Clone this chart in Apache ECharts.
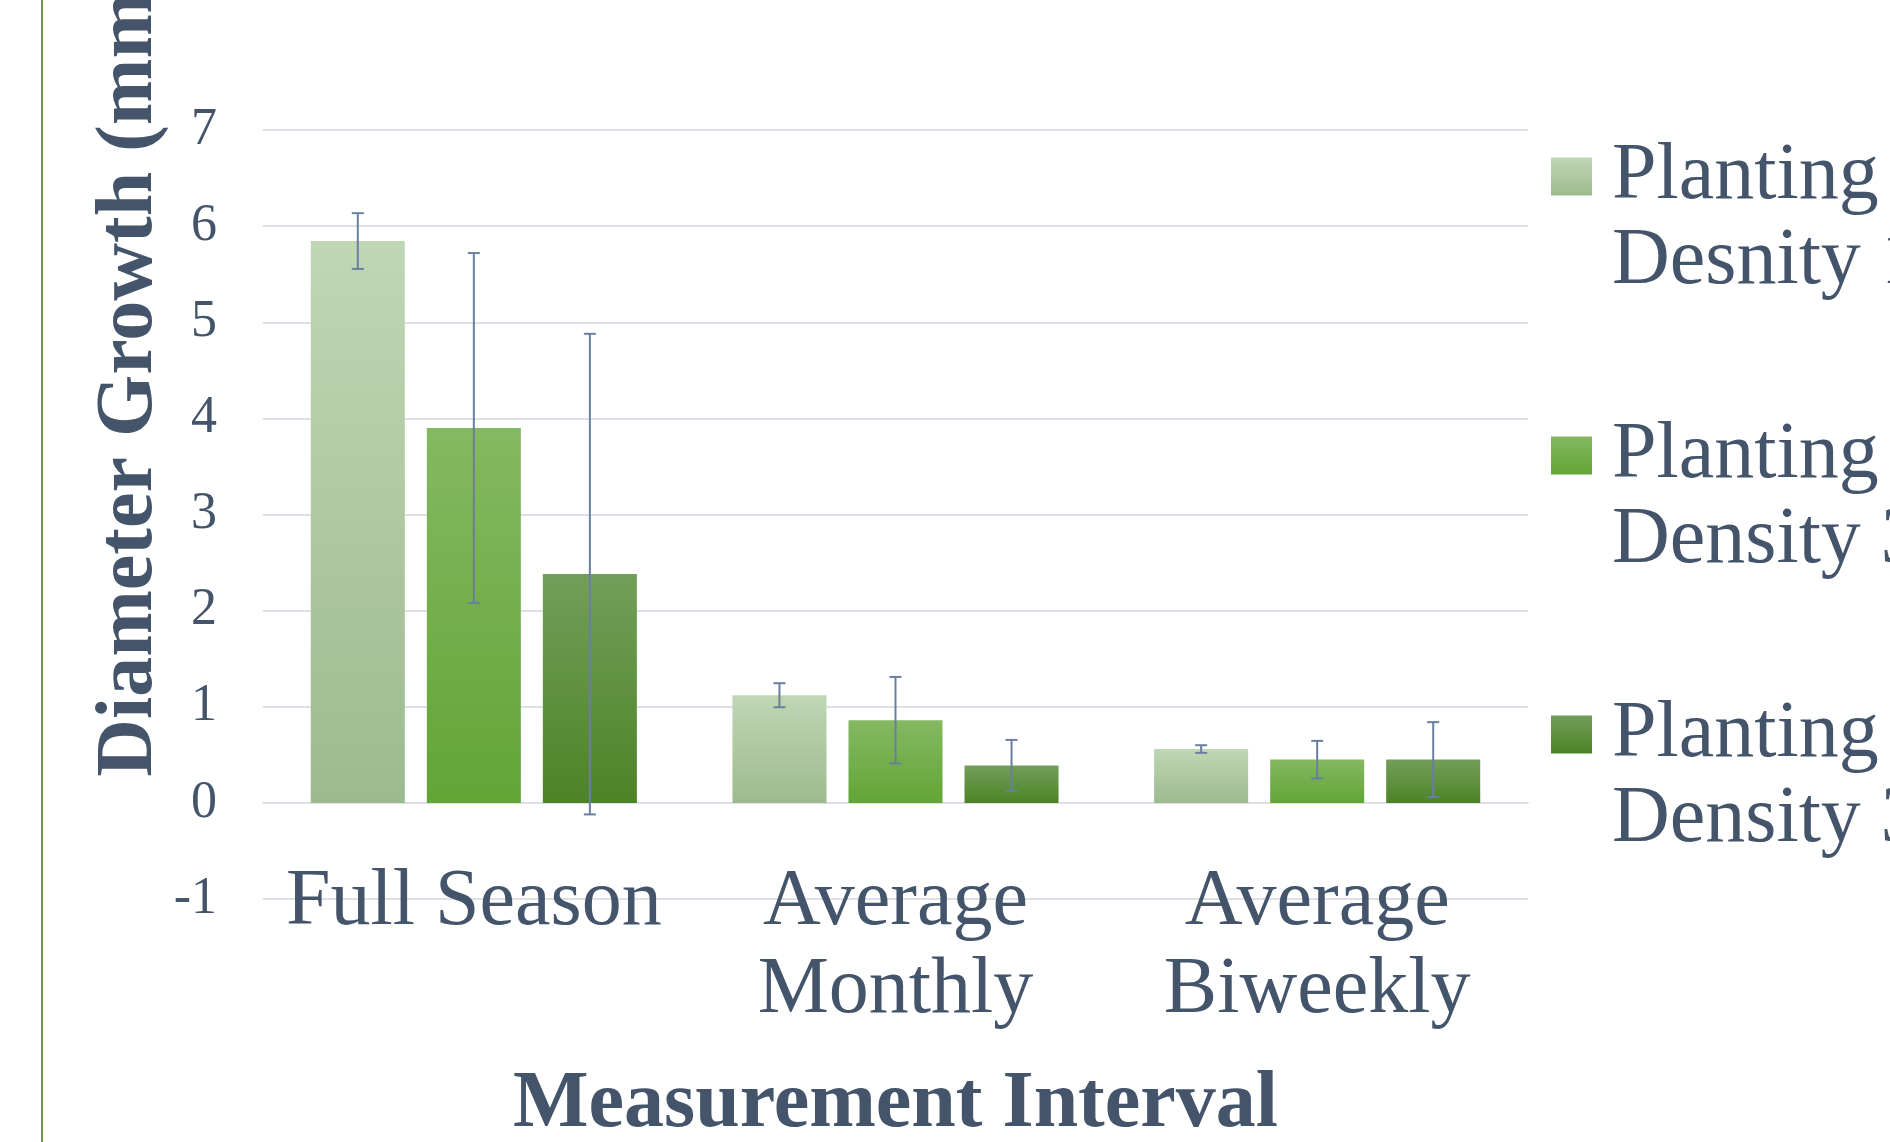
<!DOCTYPE html>
<html>
<head>
<meta charset="utf-8">
<script src="https://cdn.jsdelivr.net/npm/echarts@6/dist/echarts.min.js"></script>
<style>
  html, body { margin: 0; padding: 0; background: #fff; }
  #chart { width: 1890px; height: 1142px; }
</style>
</head>
<body>
<div id="chart"></div>
<script>
// ---- data ----
var categories = ['Full Season', 'Average\nMonthly', 'Average\nBiweekly'];
var seriesNames = ['Planting\nDesnity 1', 'Planting\nDensity 3', 'Planting\nDensity 3.5'];
var density1 = [5.845, 1.12, 0.56];
var density2 = [3.9, 0.86, 0.45];
var density3 = [2.38, 0.39, 0.45];
var density1Err = [0.29, 0.125, 0.04];
var density2Err = [1.82, 0.45, 0.195];
var density3Err = [2.5, 0.265, 0.39];

var FONT = "'Liberation Serif', 'Times New Roman', serif";
var TEXT_COLOR = '#44546a';
var BAR_W = 0.223;   // bar width as share of the category band
var BAR_GAP = 0.234; // gap between bars as share of bar width

function grad(top, bottom) {
    return new echarts.graphic.LinearGradient(0, 0, 0, 1, [
        { offset: 0, color: top },
        { offset: 1, color: bottom }
    ]);
}

var barColors = [
    grad('#bfd7b4', '#9dba8f'),
    grad('#85b862', '#62a535'),
    grad('#739e5a', '#4d8327')
];

// error bar data: [category, low, high]
function errData(values, errs) {
    return values.map(function(v, i) {
        return [i, v - errs[i], v + errs[i]];
    });
}

function renderErr(params, api) {
    var cat = api.value(0);
    var hi = api.coord([cat, api.value(2)]);
    var lo = api.coord([cat, api.value(1)]);
    var band = api.size([1, 0])[0];
    var bw = band * BAR_W;
    var k = params.seriesIndex - 3;
    var x = hi[0] + (k - 1) * (bw + bw * BAR_GAP);
    var half = 6;
    var style = { stroke: '#6a7f9f', lineWidth: 2 };
    return {
        type: 'group',
        children: [
            { type: 'line', shape: { x1: x, y1: hi[1], x2: x, y2: lo[1] }, style: style },
            { type: 'line', shape: { x1: x - half, y1: hi[1], x2: x + half, y2: hi[1] }, style: style },
            { type: 'line', shape: { x1: x - half, y1: lo[1], x2: x + half, y2: lo[1] }, style: style }
        ]
    };
}

var dom = document.getElementById('chart');
var myChart = echarts.init(dom);

var values = [density1, density2, density3];
var errs = [density1Err, density2Err, density3Err];

var series = [];
for (var i = 0; i < 3; i++) {
    series.push({
        name: seriesNames[i],
        type: 'bar',
        data: values[i],
        barWidth: (BAR_W * 100) + '%',
        barGap: (BAR_GAP * 100) + '%',
        itemStyle: { color: barColors[i] },
        z: 2
    });
}
for (var j = 0; j < 3; j++) {
    series.push({
        type: 'custom',
        renderItem: renderErr,
        data: errData(values[j], errs[j]),
        encode: { x: 0, y: [1, 2] },
        z: 5,
        silent: true
    });
}

var option = {
    backgroundColor: '#ffffff',
    animation: false,
    grid: {
        left: 263,
        right: 362,
        top: 130,
        bottom: 243,
        outerBoundsMode: 'none'
    },
    legend: {
        orient: 'vertical',
        left: 1551,
        top: 41,
        padding: 0,
        itemWidth: 41,
        itemHeight: 38,
        itemGap: 8,
        icon: 'rect',
        data: seriesNames,
        // leading blank line keeps the first text line beside the icon
        formatter: function(name) { return '\n' + name; },
        textStyle: {
            fontFamily: FONT,
            fontSize: 80,
            lineHeight: 85,
            color: TEXT_COLOR,
            padding: [16, 0, 0, 15]
        }
    },
    xAxis: {
        type: 'category',
        data: categories,
        axisLine: { show: true, onZero: true, lineStyle: { color: '#dde1e7', width: 2 } },
        axisTick: { show: false },
        axisLabel: {
            fontFamily: FONT,
            fontSize: 80,
            lineHeight: 88,
            color: TEXT_COLOR,
            margin: -40,
            interval: 0
        },
        name: 'Measurement Interval',
        nameLocation: 'middle',
        nameGap: 166,
        nameMoveOverlap: false,
        nameTextStyle: {
            fontFamily: FONT,
            fontSize: 80,
            fontWeight: 'bold',
            color: TEXT_COLOR
        }
    },
    yAxis: {
        type: 'value',
        min: -1,
        max: 7,
        interval: 1,
        axisLine: { show: false },
        axisTick: { show: false },
        splitLine: { lineStyle: { color: '#dde1e7', width: 2 } },
        axisLabel: {
            fontFamily: FONT,
            fontSize: 52,
            color: TEXT_COLOR,
            margin: 46
        }
    },
    graphic: [
        {
            type: 'line',
            shape: { x1: 42, y1: 0, x2: 42, y2: 1142 },
            style: { stroke: '#6f9a4c', lineWidth: 2 }
        },
        {
            type: 'text',
            x: 130,
            y: 371,
            rotation: Math.PI / 2,
            style: {
                text: 'Diameter Growth (mm)',
                fontFamily: FONT,
                fontSize: 80,
                fontWeight: 'bold',
                fill: TEXT_COLOR,
                align: 'center',
                verticalAlign: 'middle'
            }
        }
    ],
    series: series
};

myChart.setOption(option);
</script>
</body>
</html>
